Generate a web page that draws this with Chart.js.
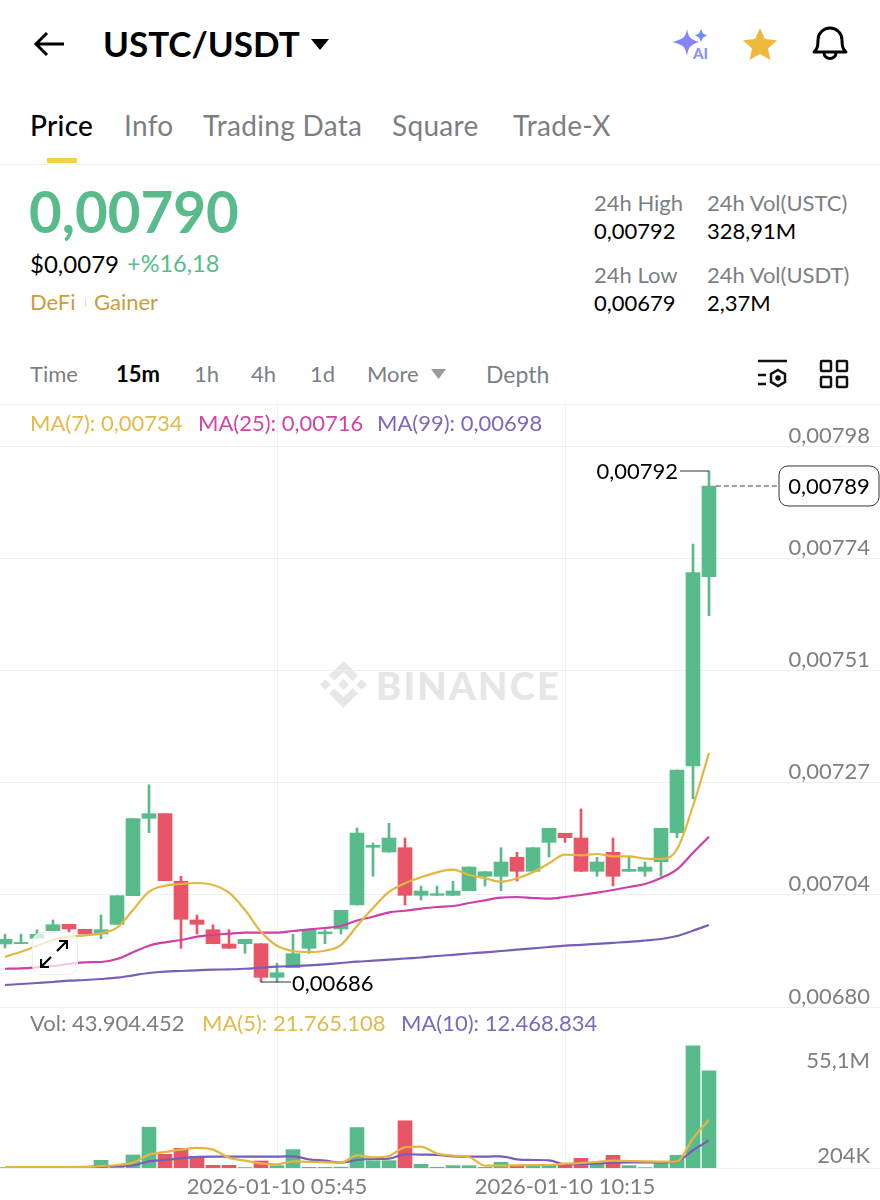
<!DOCTYPE html>
<html>
<head>
<meta charset="utf-8">
<title>USTC/USDT</title>
<script src="https://cdn.jsdelivr.net/npm/chart.js@4/dist/chart.umd.min.js"></script>
<style>
  html, body { margin: 0; padding: 0; background: #fff; }
  body { width: 880px; height: 1200px; position: relative; overflow: hidden; font-family: Lato, sans-serif; }
  .t { position: absolute; transform: translateY(-50%); white-space: nowrap; line-height: 1; }
  .gray { color: #7b7f85; }
  .black { color: #000; }
  .green { color: #58bb8b; }
  .rule { position: absolute; left: 0; width: 880px; height: 1px; background: #f1f1f1; }
  .f21 { font-size: 22px; }
  .tab { font-size: 28px; letter-spacing: 0.3px; }
  canvas { position: absolute; left: 0; }
  svg { position: absolute; }
</style>
</head>
<body>

<svg style="left:33px;top:30px" width="34" height="28" viewBox="0 0 34 28"><path d="M31 14H4M14 3L3 14l11 11" fill="none" stroke="#000" stroke-width="3"/></svg>
<div class="t black" style="left:103px;top:43px;font-size:35px;font-weight:700">USTC/USDT</div>
<svg style="left:311px;top:39px" width="18" height="11"><path d="M0 0H18L9 11z" fill="#000"/></svg>

<svg style="left:670px;top:26px" width="42" height="36" viewBox="0 0 42 36">
  <defs><linearGradient id="ai" x1="0" y1="0" x2="1" y2="1"><stop offset="0" stop-color="#6a8cff"/><stop offset="1" stop-color="#a07cf0"/></linearGradient></defs>
  <path d="M17 3C18.500 11 20 13 29 16C20 19 18.500 21 17 30C15.500 21 14 19 2 16C14 13 15.500 11 17 3z" fill="url(#ai)"/>
  <path d="M31 3L33 7.500 37 9.500 33 11.500 31 16 29 11.500 25 9.500 29 7.500z" fill="#6f8bff"/>
  <text x="23" y="33" font-family="Lato" font-weight="900" font-size="15" fill="#8c93f2">AI</text>
</svg>
<svg style="left:742px;top:26px" width="36" height="36" viewBox="0 0 36 36"><path d="M18 2L23 13 35 14.300 26 22.500 28.500 34 18 28 7.500 34 10 22.500 1 14.300 13 13z" fill="#edb93c"/></svg>
<svg style="left:811px;top:25px" width="38" height="38" viewBox="0 0 38 38"><path d="M3 27c3-3 4-5 4-12a12 12 0 0 1 24 0c0 7 1 9 4 12zM13 28a6 5.500 0 0 0 12 0" fill="none" stroke="#000" stroke-width="3" stroke-linejoin="round"/></svg>

<div class="t black tab" style="left:30px;top:125px;font-weight:500">Price</div>
<div class="t gray tab" style="left:124px;top:125px">Info</div>
<div class="t gray tab" style="left:203px;top:125px">Trading Data</div>
<div class="t gray tab" style="left:392px;top:125px">Square</div>
<div class="t gray tab" style="left:513px;top:125px">Trade-X</div>
<div style="position:absolute;left:47px;top:158px;width:30px;height:5px;background:#f0d04e"></div>
<div class="rule" style="top:164px"></div>

<div class="t green" style="left:29px;top:211px;font-size:56.500px;font-weight:700">0,00790</div>
<div class="t black" style="left:30px;top:264px;font-size:24px">$0,0079</div>
<div class="t green" style="left:127px;top:264px;font-size:23.500px">+%16,18</div>
<div class="t" style="left:30px;top:302px;font-size:22px;color:#c99e3b">DeFi</div>
<div style="position:absolute;left:85px;top:299px;width:1px;height:8px;background:#ddd"></div>
<div class="t" style="left:94px;top:302px;font-size:22px;color:#c99e3b">Gainer</div>

<div class="t gray f21" style="left:594px;top:203px">24h High</div>
<div class="t black f21" style="left:594px;top:231px">0,00792</div>
<div class="t gray f21" style="left:707px;top:203px">24h Vol(USTC)</div>
<div class="t black f21" style="left:707px;top:231px">328,91M</div>
<div class="t gray f21" style="left:594px;top:275px">24h Low</div>
<div class="t black f21" style="left:594px;top:303px">0,00679</div>
<div class="t gray f21" style="left:707px;top:275px">24h Vol(USDT)</div>
<div class="t black f21" style="left:707px;top:303px">2,37M</div>

<div class="t gray f21" style="left:30px;top:374px">Time</div>
<div class="t black f21" style="left:116px;top:374px;font-weight:700">15m</div>
<div class="t gray f21" style="left:194px;top:374px">1h</div>
<div class="t gray f21" style="left:251px;top:374px">4h</div>
<div class="t gray f21" style="left:310px;top:374px">1d</div>
<div class="t gray f21" style="left:367px;top:374px">More</div>
<svg style="left:431px;top:369px" width="15" height="10"><path d="M0 0H15L7.500 10z" fill="#999"/></svg>
<div class="t gray f21" style="left:486px;top:374px;font-size:23px">Depth</div>
<svg style="left:757px;top:359px" width="32" height="30" viewBox="0 0 32 30" fill="none" stroke="#111" stroke-width="2.500">
  <path d="M1 2H30M1 16H9M1 25H9"/><path d="M21 11l7 4v8l-7 4-7-4v-8z"/><circle cx="21" cy="19" r="1.500" fill="#111"/>
</svg>
<svg style="left:819px;top:359px" width="30" height="30" viewBox="0 0 30 30" fill="none" stroke="#111" stroke-width="2.500">
  <rect x="2" y="2" width="10" height="10" rx="1"/><rect x="18" y="2" width="10" height="10" rx="1"/><rect x="2" y="18" width="10" height="10" rx="1"/><rect x="18" y="18" width="10" height="10" rx="1"/>
</svg>
<div class="rule" style="top:404px"></div>

<svg style="left:320px;top:661px" width="47" height="47" viewBox="0 0 126.610 126.610"><path fill="#e6e6e6" d="M38.730 53.200 63.300 28.630l24.590 24.580 14.300-14.300L63.300 0 24.420 38.890zM0 63.310l14.300-14.300 14.310 14.300-14.310 14.300zM38.730 73.410 63.300 97.980l24.590-24.590 14.310 14.290L63.300 126.610 24.400 87.710zM97.990 63.310l14.300-14.300 14.320 14.300-14.310 14.300zM77.830 63.300 63.300 48.780 48.780 63.300 63.300 77.820z"/></svg>
<div class="t" style="left:376px;top:685px;font-size:38px;font-weight:900;color:#e6e6e6;letter-spacing:2.300px">BINANCE</div>

<canvas id="priceChart" width="880" height="603" style="top:405px"></canvas>
<canvas id="volChart" width="880" height="192" style="top:1008px"></canvas>

<div class="t f21" style="left:30px;top:423px;color:#e3b94a">MA(7): 0,00734</div>
<div class="t f21" style="left:198px;top:423px;color:#d344a6">MA(25): 0,00716</div>
<div class="t f21" style="left:377px;top:423px;color:#7d68bb">MA(99): 0,00698</div>

<div class="t gray f21" style="left:30px;top:1023px">Vol: 43.904.452</div>
<div class="t f21" style="left:202px;top:1023px;color:#e3b94a">MA(5): 21.765.108</div>
<div class="t f21" style="left:401px;top:1023px;color:#7d68bb">MA(10): 12.468.834</div>

<div style="position:absolute;left:32px;top:932px;width:44px;height:41px;border:1.500px solid #eee;border-radius:10px;background:rgba(255,255,255,.72)"></div>
<svg style="left:40px;top:940px" width="28" height="28" viewBox="0 0 28 28" fill="none" stroke="#000" stroke-width="2.200"><path d="M17 11L27 1M19 1h8v8M11 17L1 27M1 19v8h8"/></svg>

<script>
const times = ["01:30","01:45","02:00","02:15","02:30","02:45","03:00","03:15","03:30","03:45","04:00","04:15","04:30","04:45","05:00","05:15","05:30","05:45","06:00","06:15","06:30","06:45","07:00","07:15","07:30","07:45","08:00","08:15","08:30","08:45","09:00","09:15","09:30","09:45","10:00","10:15","10:30","10:45","11:00","11:15","11:30","11:45","12:00","12:15","12:30"];
const opens = [0.0069325,0.0069331,0.0069445,0.0069605,0.0069739,0.0069634,0.0069535,0.0069739,0.0070341,0.0071969,0.0072066,0.0070644,0.0069830,0.0069626,0.0069325,0.0069331,0.0069331,0.0068625,0.0068827,0.0069235,0.0069542,0.0069641,0.0070145,0.0071359,0.0071260,0.0071351,0.0070349,0.0070349,0.0070349,0.0070446,0.0070749,0.0070749,0.0071149,0.0070854,0.0071464,0.0071654,0.0071555,0.0070854,0.0071254,0.0070854,0.0070854,0.0071056,0.0071666,0.0073069,0.0077051];
const closes = [0.0069424,0.0069357,0.0069529,0.0069731,0.0069641,0.0069535,0.0069626,0.0070341,0.0071961,0.0072066,0.0070656,0.0069845,0.0069739,0.0069331,0.0069235,0.0069424,0.0068625,0.0068721,0.0069121,0.0069626,0.0069578,0.0070034,0.0071660,0.0071401,0.0071555,0.0070349,0.0070440,0.0070383,0.0070440,0.0070945,0.0070846,0.0071050,0.0070854,0.0071351,0.0071759,0.0071561,0.0070854,0.0071050,0.0070749,0.0070896,0.0070945,0.0071759,0.0072985,0.0077135,0.0078959];
const highs = [0.0069529,0.0069535,0.0069620,0.0069830,0.0069739,0.0069634,0.0069935,0.0070341,0.0071961,0.0072676,0.0072066,0.0070749,0.0069935,0.0069731,0.0069626,0.0069424,0.0069331,0.0068919,0.0069529,0.0069626,0.0069626,0.0070034,0.0071765,0.0071450,0.0071864,0.0071555,0.0070545,0.0070545,0.0070644,0.0070945,0.0070846,0.0071351,0.0071254,0.0071351,0.0071759,0.0071654,0.0072165,0.0071149,0.0071555,0.0071149,0.0071050,0.0071759,0.0072985,0.0077739,0.0079274];
const lows = [0.0069241,0.0069331,0.0069445,0.0069605,0.0069571,0.0069535,0.0069436,0.0069739,0.0070341,0.0071666,0.0070656,0.0069235,0.0069535,0.0069331,0.0069235,0.0069129,0.0068526,0.0068526,0.0068827,0.0069129,0.0069331,0.0069535,0.0070145,0.0070749,0.0071260,0.0070145,0.0070251,0.0070349,0.0070349,0.0070446,0.0070545,0.0070446,0.0070650,0.0070854,0.0071155,0.0071464,0.0070854,0.0070749,0.0070545,0.0070854,0.0070749,0.0070749,0.0071561,0.0072375,0.0076231];
const ma7 = [0.0069058,0.0069163,0.0069289,0.0069409,0.0069479,0.0069508,0.0069550,0.0069668,0.0070040,0.0070425,0.0070551,0.0070587,0.0070608,0.0070566,0.0070404,0.0070040,0.0069584,0.0069289,0.0069178,0.0069157,0.0069184,0.0069304,0.0069704,0.0070082,0.0070419,0.0070602,0.0070728,0.0070833,0.0070888,0.0070776,0.0070707,0.0070635,0.0070707,0.0070833,0.0071022,0.0071203,0.0071191,0.0071218,0.0071170,0.0071170,0.0071119,0.0071113,0.0071317,0.0072228,0.0073343];
const ma25 = [0.0068805,0.0068814,0.0068835,0.0068862,0.0068904,0.0068940,0.0068946,0.0069010,0.0069150,0.0069289,0.0069361,0.0069409,0.0069479,0.0069514,0.0069542,0.0069563,0.0069563,0.0069563,0.0069598,0.0069634,0.0069662,0.0069704,0.0069819,0.0069899,0.0069992,0.0070025,0.0070068,0.0070103,0.0070124,0.0070187,0.0070244,0.0070299,0.0070314,0.0070293,0.0070278,0.0070314,0.0070356,0.0070404,0.0070461,0.0070524,0.0070587,0.0070713,0.0070896,0.0071245,0.0071582];
const ma99 = [0.0068463,0.0068484,0.0068505,0.0068526,0.0068553,0.0068568,0.0068589,0.0068616,0.0068667,0.0068715,0.0068743,0.0068757,0.0068772,0.0068785,0.0068793,0.0068805,0.0068827,0.0068848,0.0068862,0.0068877,0.0068898,0.0068925,0.0068953,0.0068974,0.0068995,0.0069020,0.0069041,0.0069073,0.0069098,0.0069125,0.0069150,0.0069178,0.0069205,0.0069233,0.0069262,0.0069289,0.0069308,0.0069329,0.0069350,0.0069371,0.0069399,0.0069430,0.0069493,0.0069605,0.0069725];
const volumes = [0.2,0.2,0.2,0.3,0.3,0.2,3.47,0.9,5.89,18.4,6.19,8.9,5.28,1.2,1.2,0.2,3.17,1.06,8.3,0.3,0.3,0.4,18.26,3.3,3.3,21.3,1.66,0.3,1.06,1.06,0.3,2.57,1.2,1.2,1.2,2.1,4.38,1.96,5.73,1.06,0.2,2.7,5.73,55.1,43.9];
const volMa5 = [0.45,0.45,0.45,0.45,0.45,0.5,0.9,1.36,2.41,6.04,7.24,8.3,9.05,8.3,4.68,3.32,2.11,1.66,3.02,2.72,2.57,2.41,5.73,4.83,5.43,9.36,9.66,6.49,5.58,4.98,1.06,1.06,1.2,1.36,1.36,1.96,2.26,2.72,3.32,3.17,3.02,2.87,3.02,13.43,21.77];
const volMa10 = [0.45,0.45,0.45,0.45,0.45,0.4,0.75,0.9,1.2,3.02,3.62,4.38,4.98,5.13,5.13,5.13,5.13,5.13,5.28,3.92,3.32,2.41,3.62,4.07,4.22,6.19,6.04,5.89,5.28,5.13,5.13,5.28,3.92,3.62,3.47,1.66,1.81,2.11,2.41,2.57,2.57,2.57,3.02,8.0,12.47];

const priceTicks = [0.00798, 0.007744, 0.007508, 0.007272, 0.007036, 0.0068];
const priceLabels = ["0,00798", "0,00774", "0,00751", "0,00727", "0,00704", "0,00680"];
const dateTicks = [17, 35];
const dateDay = "2026-01-10 ";

const green = "#58bb8b";
const red = "#e85566";
const yellow = "#e5b53f";
const magenta = "#cf3fa8";
const purple = "#7a5db8";
const gridColor = "#f0f0f0";
const tickColor = "#7b7f85";
const font = { family: "Lato", size: 22 };

const colors = closes.map((c, i) => (c >= opens[i] ? green : red));

function maLine(values, color, yAxisID) {
  return {
    type: "line",
    data: values.map((v, i) => ({ x: i, y: v })),
    borderColor: color,
    borderWidth: 2.2,
    pointRadius: 0,
    cubicInterpolationMode: "monotone",
    yAxisID: yAxisID,
    order: 0,
  };
}

// tick labels must not eat into the chart area
function noLabelPadding(scale) {
  scale.paddingTop = 0;
  scale.paddingBottom = 0;
  scale.paddingLeft = 0;
  scale.paddingRight = 0;
}

function flatYAxis(scale) {
  noLabelPadding(scale);
  scale.width = 0;
}

// index 0 sits at 5px, one candle every 16px
function xAxis(showLabels) {
  return {
    type: "linear",
    offset: false,
    min: -0.3125,
    max: 54.6875,
    afterBuildTicks: (scale) => {
      scale.ticks = dateTicks.map((v) => ({ value: v }));
    },
    afterFit: (scale) => {
      noLabelPadding(scale);
      if (showLabels) scale.height = 32;
    },
    grid: { color: gridColor, drawTicks: false, offset: false },
    border: { display: showLabels, color: gridColor },
    ticks: {
      display: showLabels,
      autoSkip: false,
      maxRotation: 0,
      padding: 6,
      color: tickColor,
      font: font,
      callback: (v) => dateDay + times[v],
    },
  };
}

const priceNotes = {
  id: "priceNotes",
  afterDatasetsDraw(chart) {
    const { ctx, scales } = chart;
    const last = closes.length - 1;
    const xLast = scales.x.getPixelForValue(last);
    const yHigh = scales.y.getPixelForValue(highs[last]);
    const yClose = scales.y.getPixelForValue(closes[last]);
    const xLow = scales.x.getPixelForValue(16);
    const yLow = scales.y.getPixelForValue(lows[16]);
    ctx.save();
    ctx.strokeStyle = "#333";
    ctx.lineWidth = 1;
    ctx.beginPath();
    ctx.moveTo(680, yHigh);
    ctx.lineTo(xLast, yHigh);
    ctx.moveTo(xLow, yLow);
    ctx.lineTo(xLow + 30, yLow);
    ctx.stroke();

    ctx.setLineDash([5, 3]);
    ctx.strokeStyle = "#444";
    ctx.lineWidth = 1.2;
    ctx.beginPath();
    ctx.moveTo(xLast + 7, yClose);
    ctx.lineTo(779, yClose);
    ctx.stroke();
    ctx.setLineDash([]);

    ctx.fillStyle = "#fff";
    ctx.strokeStyle = "#333";
    ctx.lineWidth = 1;
    ctx.beginPath();
    ctx.roundRect(779, yClose - 20, 100, 40, 9);
    ctx.fill();
    ctx.stroke();

    ctx.font = "22px Lato";
    ctx.fillStyle = "#000";
    ctx.textBaseline = "middle";
    ctx.textAlign = "center";
    ctx.fillText("0,00789", 829, yClose + 1);
    ctx.textAlign = "right";
    ctx.fillText("0,00792", 678, yHigh + 1);
    ctx.textAlign = "left";
    ctx.fillText("0,00686", xLow + 31, yLow + 2);
    ctx.restore();
  },
};

new Chart(document.getElementById("priceChart"), {
  type: "bar",
  data: {
    datasets: [
      maLine(ma7, yellow, "y"),
      maLine(ma25, magenta, "y"),
      maLine(ma99, purple, "y"),
      {
        data: lows.map((l, i) => ({ x: i, y: [l, highs[i]] })),
        backgroundColor: colors,
        barThickness: 2,
        grouped: false,
        order: 2,
      },
      {
        data: opens.map((o, i) => ({ x: i, y: [o, closes[i]] })),
        backgroundColor: colors,
        barThickness: 14,
        grouped: false,
        order: 1,
      },
    ],
  },
  options: {
    responsive: false,
    animation: false,
    layout: { padding: { bottom: 1 } },
    plugins: { legend: { display: false }, tooltip: { enabled: false } },
    scales: {
      x: xAxis(false),
      y: {
        position: "right",
        min: 0.0068,
        max: 0.00806624,
        afterBuildTicks: (scale) => {
          scale.ticks = priceTicks.map((v) => ({ value: v }));
        },
        afterFit: flatYAxis,
        grid: { color: gridColor, drawTicks: false },
        border: { display: false },
        ticks: {
          mirror: true,
          padding: -10,
          labelOffset: -10.5,
          color: tickColor,
          font: font,
          callback: (v, i) => priceLabels[i],
        },
      },
    },
  },
  plugins: [priceNotes],
});

// two axes so each label can sit on its own side of its level
function volAxis(tick, label, offset) {
  return {
    position: "right",
    min: 0,
    max: 72.2,
    afterBuildTicks: (scale) => {
      scale.ticks = [{ value: tick }];
    },
    afterFit: flatYAxis,
    grid: { display: false },
    border: { display: false },
    ticks: {
      mirror: true,
      padding: -10,
      labelOffset: offset,
      color: tickColor,
      font: font,
      callback: () => label,
    },
  };
}

new Chart(document.getElementById("volChart"), {
  type: "bar",
  data: {
    datasets: [
      maLine(volMa5, yellow, "y"),
      maLine(volMa10, purple, "y"),
      {
        data: volumes.map((v, i) => ({ x: i, y: v })),
        backgroundColor: colors,
        barThickness: 14,
        order: 1,
      },
    ],
  },
  options: {
    responsive: false,
    animation: false,
    plugins: { legend: { display: false }, tooltip: { enabled: false } },
    scales: {
      x: xAxis(true),
      y: volAxis(55.1, "55,1M", 15),
      y2: volAxis(0.204, "204K", -12),
    },
  },
});
</script>
</body>
</html>
